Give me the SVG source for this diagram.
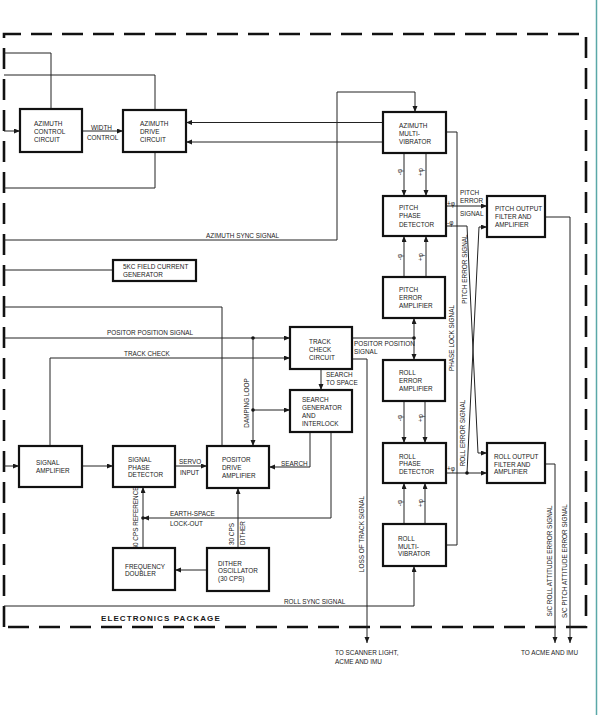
<svg xmlns="http://www.w3.org/2000/svg" width="598" height="715" viewBox="0 0 598 715">
<defs>
<marker id="ah" markerUnits="userSpaceOnUse" markerWidth="7" markerHeight="6" refX="6" refY="2.5" orient="auto">
<path d="M0,0 L6,2.5 L0,5 z" fill="#1a1a1a"/>
</marker>
<style>
.box{fill:#fff;stroke:#111;stroke-width:2.2}
.t{font-family:"Liberation Sans",Arial,sans-serif;font-size:6.4px;fill:#1a1a1a}
.w{fill:none;stroke:#222;stroke-width:1}
.a{fill:none;stroke:#222;stroke-width:1;marker-end:url(#ah)}
.dot{fill:#111}
.border{fill:none;stroke:#111;stroke-width:2.6;stroke-dasharray:21 10}
</style>
</defs>
<rect width="598" height="715" fill="#fff"/>
<line x1="596.5" y1="0" x2="596.5" y2="715" stroke="#5aa8a8" stroke-width="1.5"/>

<g id="border">
<path class="border" d="M4,627 V34 H586 V627 H4"/>
<text class="t" x="101" y="621" style="font-size:8px;font-weight:bold;letter-spacing:1.1px">ELECTRONICS PACKAGE</text>
</g>

<g id="connectors">
<polyline class="w" points="4,53 51,53 51,109"/>
<polyline class="w" points="4,75 155,75 155,110"/>
<line class="a" x1="4" y1="131" x2="20" y2="131"/>
<line class="a" x1="82" y1="131" x2="123" y2="131"/>
<line class="a" x1="383" y1="122.5" x2="186" y2="122.5"/>
<line class="a" x1="383" y1="142" x2="186" y2="142"/>
<polyline class="w" points="155,152 155,188 4,188"/>
<polyline class="a" points="4,240 337,240 337,92 415,92 415,112"/>
<polyline class="w" points="446,132 457,132 457,545 446,545"/>
<line class="a" x1="404" y1="153" x2="404" y2="196"/>
<line class="a" x1="426" y1="153" x2="426" y2="196"/>
<line class="a" x1="404" y1="277" x2="404" y2="236"/>
<line class="a" x1="426" y1="277" x2="426" y2="236"/>
<line class="a" x1="446" y1="206" x2="487" y2="206"/>
<polyline class="a" points="446,226 467,226 478,453 487,453"/>
<line class="a" x1="446" y1="473" x2="487" y2="473"/>
<polyline class="a" points="467,473 479,227 487,227"/>
<circle class="dot" cx="467" cy="473" r="1.8"/>
<polyline class="a" points="545,217 570,217 570,643"/>
<polyline class="a" points="545,464 555,464 555,643"/>
<line class="a" x1="404" y1="401" x2="404" y2="443"/>
<line class="a" x1="425" y1="401" x2="425" y2="443"/>
<line class="a" x1="404" y1="524" x2="404" y2="483"/>
<line class="a" x1="425" y1="524" x2="425" y2="483"/>
<polyline class="a" points="4,606 414,606 414,566"/>
<line class="w" x1="4" y1="270" x2="113" y2="270"/>
<polyline class="w" points="4,307 222,307 222,446"/>
<line class="a" x1="4" y1="338" x2="290" y2="338"/>
<circle class="dot" cx="253" cy="338" r="1.8"/>
<line class="a" x1="253" y1="338" x2="253" y2="446"/>
<circle class="dot" cx="253" cy="410" r="1.8"/>
<line class="a" x1="253" y1="410" x2="290" y2="410"/>
<polyline class="a" points="50,446 50,358 290,358"/>
<line class="a" x1="321" y1="369" x2="321" y2="390"/>
<polyline class="a" points="310,432 310,467 269,467"/>
<polyline class="a" points="331,432 331,518 143,518"/>
<circle class="dot" cx="143" cy="518" r="1.8"/>
<line class="a" x1="143" y1="548" x2="143" y2="487"/>
<line class="a" x1="207" y1="570" x2="175" y2="570"/>
<line class="a" x1="238" y1="548" x2="238" y2="488"/>
<line class="a" x1="4" y1="466" x2="19" y2="466"/>
<line class="a" x1="82" y1="466" x2="113" y2="466"/>
<line class="a" x1="175" y1="466" x2="207" y2="466"/>
<line class="w" x1="352" y1="338" x2="414" y2="338"/>
<circle class="dot" cx="414" cy="338" r="1.8"/>
<line class="a" x1="414" y1="338" x2="414" y2="318"/>
<line class="a" x1="414" y1="338" x2="414" y2="360"/>
<polyline class="a" points="352,359 367,359 367,643"/>
</g>

<g id="labels">
<text class="t" x="91" y="129.5">WIDTH</text>
<text class="t" x="87" y="139.5">CONTROL</text>
<text class="t" x="206" y="237.5">AZIMUTH SYNC SIGNAL</text>
<text class="t" x="107" y="334.5">POSITOR POSITION SIGNAL</text>
<text class="t" x="124" y="355.5">TRACK CHECK</text>
<text class="t" x="354" y="345.5">POSITOR POSITION</text>
<text class="t" x="354" y="353.5">SIGNAL</text>
<text class="t" x="326" y="376.5">SEARCH</text>
<text class="t" x="326" y="384.5">TO SPACE</text>
<text class="t" x="281" y="465.5">SEARCH</text>
<text class="t" x="179" y="463.5">SERVO</text>
<text class="t" x="180" y="474.5">INPUT</text>
<text class="t" x="170" y="515.5">EARTH-SPACE</text>
<text class="t" x="170" y="525.5">LOCK-OUT</text>
<text class="t" x="460" y="194.5">PITCH</text>
<text class="t" x="460" y="202.5">ERROR</text>
<text class="t" x="460" y="215.5">SIGNAL</text>
<text class="t" x="284" y="603.5">ROLL SYNC SIGNAL</text>
<text class="t" x="335" y="654.5">TO SCANNER LIGHT,</text>
<text class="t" x="335" y="663.5">ACME AND IMU</text>
<text class="t" x="521" y="654.5">TO ACME AND IMU</text>
<text class="t" x="447" y="206">+φ</text>
<text class="t" x="447" y="225">-φ</text>
<text class="t" x="447" y="471">+φ</text>
<g text-anchor="middle">
<text class="t" transform="rotate(-90 454.3 338)" x="454.3" y="338">PHASE LOCK SIGNAL</text>
<text class="t" transform="rotate(-90 467.3 269)" x="467.3" y="269">PITCH ERROR SIGNAL</text>
<text class="t" transform="rotate(-90 465.3 433)" x="465.3" y="433">ROLL ERROR SIGNAL</text>
<text class="t" transform="rotate(-90 249.3 403)" x="249.3" y="403">DAMPING LOOP</text>
<text class="t" transform="rotate(-90 364.3 534)" x="364.3" y="534">LOSS OF TRACK SIGNAL</text>
<text class="t" transform="rotate(-90 138.3 518)" x="138.3" y="518">60 CPS REFERENCE</text>
<text class="t" transform="rotate(-90 234.3 534)" x="234.3" y="534">30 CPS</text>
<text class="t" transform="rotate(-90 245.3 533)" x="245.3" y="533">DITHER</text>
<text class="t" transform="rotate(-90 552.3 561)" x="552.3" y="561">S/C ROLL ATTITUDE ERROR SIGNAL</text>
<text class="t" transform="rotate(-90 567.3 561)" x="567.3" y="561">S/C PITCH ATTITUDE ERROR SIGNAL</text>
<text class="t" transform="rotate(-90 402.3 172)" x="402.3" y="172">-φ</text>
<text class="t" transform="rotate(-90 423.3 172)" x="423.3" y="172">+φ</text>
<text class="t" transform="rotate(-90 402.3 257)" x="402.3" y="257">-φ</text>
<text class="t" transform="rotate(-90 423.3 257)" x="423.3" y="257">+φ</text>
<text class="t" transform="rotate(-90 402.3 418)" x="402.3" y="418">-φ</text>
<text class="t" transform="rotate(-90 423.3 418)" x="423.3" y="418">+φ</text>
<text class="t" transform="rotate(-90 402.3 503)" x="402.3" y="503">-φ</text>
<text class="t" transform="rotate(-90 423.3 503)" x="423.3" y="503">+φ</text>
</g>
</g>

<g id="azimuth-control">
<rect class="box" x="20" y="109" width="62" height="43"/>
<text class="t" x="34" y="125.5">AZIMUTH</text>
<text class="t" x="34" y="133.5">CONTROL</text>
<text class="t" x="34" y="141.5">CIRCUIT</text>
</g>
<g id="azimuth-drive">
<rect class="box" x="123" y="110" width="63" height="42"/>
<text class="t" x="140" y="125.5">AZIMUTH</text>
<text class="t" x="140" y="133.5">DRIVE</text>
<text class="t" x="140" y="141.5">CIRCUIT</text>
</g>
<g id="azimuth-multivibrator">
<rect class="box" x="383" y="112" width="63" height="41"/>
<text class="t" x="399" y="127.5">AZIMUTH</text>
<text class="t" x="399" y="135.5">MULTI-</text>
<text class="t" x="399" y="143.5">VIBRATOR</text>
</g>
<g id="pitch-phase-detector">
<rect class="box" x="383" y="196" width="63" height="40"/>
<text class="t" x="399" y="209.5">PITCH</text>
<text class="t" x="399" y="218">PHASE</text>
<text class="t" x="399" y="226.5">DETECTOR</text>
</g>
<g id="pitch-output-filter">
<rect class="box" x="487" y="196" width="58" height="41"/>
<text class="t" x="495" y="210.5">PITCH OUTPUT</text>
<text class="t" x="495" y="218.5">FILTER AND</text>
<text class="t" x="495" y="226.5">AMPLIFIER</text>
</g>
<g id="field-current-generator">
<rect class="box" x="113" y="260" width="83" height="21"/>
<text class="t" x="123" y="268.5">5KC FIELD CURRENT</text>
<text class="t" x="123" y="276.5">GENERATOR</text>
</g>
<g id="pitch-error-amplifier">
<rect class="box" x="383" y="277" width="62" height="41"/>
<text class="t" x="399" y="291.5">PITCH</text>
<text class="t" x="399" y="299.5">ERROR</text>
<text class="t" x="399" y="307.5">AMPLIFIER</text>
</g>
<g id="track-check-circuit">
<rect class="box" x="290" y="327" width="62" height="42"/>
<text class="t" x="309" y="343.5">TRACK</text>
<text class="t" x="309" y="351.5">CHECK</text>
<text class="t" x="309" y="359.5">CIRCUIT</text>
</g>
<g id="roll-error-amplifier">
<rect class="box" x="383" y="360" width="62" height="41"/>
<text class="t" x="399" y="374.5">ROLL</text>
<text class="t" x="399" y="382.5">ERROR</text>
<text class="t" x="399" y="390.5">AMPLIFIER</text>
</g>
<g id="search-generator">
<rect class="box" x="290" y="390" width="62" height="42"/>
<text class="t" x="302" y="401.5">SEARCH</text>
<text class="t" x="302" y="409.5">GENERATOR</text>
<text class="t" x="302" y="417.5">AND</text>
<text class="t" x="302" y="425.5">INTERLOCK</text>
</g>
<g id="signal-amplifier">
<rect class="box" x="19" y="446" width="63" height="41"/>
<text class="t" x="36" y="464.5">SIGNAL</text>
<text class="t" x="36" y="472.5">AMPLIFIER</text>
</g>
<g id="signal-phase-detector">
<rect class="box" x="113" y="446" width="62" height="41"/>
<text class="t" x="128" y="461.5">SIGNAL</text>
<text class="t" x="128" y="469.5">PHASE</text>
<text class="t" x="128" y="477">DETECTOR</text>
</g>
<g id="positor-drive-amplifier">
<rect class="box" x="207" y="446" width="62" height="42"/>
<text class="t" x="222" y="461.5">POSITOR</text>
<text class="t" x="222" y="469.5">DRIVE</text>
<text class="t" x="222" y="477.5">AMPLIFIER</text>
</g>
<g id="roll-phase-detector">
<rect class="box" x="383" y="443" width="63" height="40"/>
<text class="t" x="399" y="458.5">ROLL</text>
<text class="t" x="399" y="466">PHASE</text>
<text class="t" x="399" y="473.5">DETECTOR</text>
</g>
<g id="roll-output-filter">
<rect class="box" x="487" y="443" width="58" height="40"/>
<text class="t" x="494" y="458.5">ROLL OUTPUT</text>
<text class="t" x="494" y="466.5">FILTER AND</text>
<text class="t" x="494" y="474">AMPLIFIER</text>
</g>
<g id="roll-multivibrator">
<rect class="box" x="383" y="524" width="63" height="42"/>
<text class="t" x="398" y="540.5">ROLL</text>
<text class="t" x="398" y="548.5">MULTI-</text>
<text class="t" x="398" y="556">VIBRATOR</text>
</g>
<g id="frequency-doubler">
<rect class="box" x="113" y="548" width="62" height="42"/>
<text class="t" x="125" y="568.5">FREQUENCY</text>
<text class="t" x="125" y="576">DOUBLER</text>
</g>
<g id="dither-oscillator">
<rect class="box" x="207" y="548" width="62" height="43"/>
<text class="t" x="218" y="565.5">DITHER</text>
<text class="t" x="218" y="572.5">OSCILLATOR</text>
<text class="t" x="218" y="580.5">(30 CPS)</text>
</g>
</svg>
